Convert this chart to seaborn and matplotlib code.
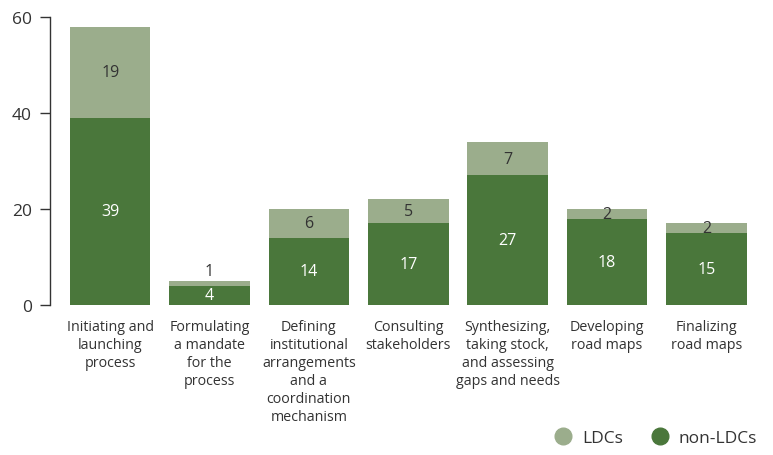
import matplotlib
matplotlib.use("Agg")
import matplotlib.pyplot as plt
from matplotlib.lines import Line2D
import seaborn as sns
import pandas as pd

stages = [
    "Initiating and\nlaunching\nprocess",
    "Formulating\na mandate\nfor the\nprocess",
    "Defining\ninstitutional\narrangements\nand a\ncoordination\nmechanism",
    "Consulting\nstakeholders",
    "Synthesizing,\ntaking stock,\nand assessing\ngaps and needs",
    "Developing\nroad maps",
    "Finalizing\nroad maps",
]
non_ldcs = [39, 4, 14, 17, 27, 18, 15]
ldcs = [19, 1, 6, 5, 7, 2, 2]

dark = "#4a773b"
light = "#9bad8c"
txt = "#333333"

sns.set_theme(style="white")
plt.rcParams["font.family"] = ["Open Sans", "DejaVu Sans"]

df = pd.DataFrame({"stage": stages, "non": non_ldcs, "ldc": ldcs})
df["total"] = df["non"] + df["ldc"]

fig = plt.figure(figsize=(7.73, 4.56), dpi=100)
ax = fig.add_axes([50 / 773, 150 / 456, 712 / 773, 288 / 456])

# stacked bars: total in light, non-LDC part on top in dark
sns.barplot(data=df, x="stage", y="total", color=light, width=0.81,
            saturation=1, linewidth=0, ax=ax)
sns.barplot(data=df, x="stage", y="non", color=dark, width=0.81,
            saturation=1, linewidth=0, ax=ax)

for i, (n, l) in enumerate(zip(non_ldcs, ldcs)):
    ax.text(i, n / 2, str(n), ha="center", va="center", color="white", fontsize=11.5)
    if l < 1.5:
        ax.text(i, n + l + 0.4, str(l), ha="center", va="bottom", color=txt, fontsize=11.5)
    else:
        ax.text(i, n + l / 2, str(l), ha="center", va="center", color=txt, fontsize=11.5)

ax.set_ylim(0, 60)
ax.set_xlim(-0.606, 6.56)
ax.set_yticks([0, 20, 40, 60])
ax.set_xlabel("")
ax.set_ylabel("")
ax.set_xticks(range(len(stages)))
ax.set_xticklabels(stages, fontsize=10.3, color=txt, linespacing=1.27, va="top")
ax.tick_params(axis="x", length=0, pad=10)
ax.tick_params(axis="y", length=7, width=1, color=txt, labelsize=12.5, labelcolor=txt,
               left=True, pad=6)
for s in ["top", "right", "bottom"]:
    ax.spines[s].set_visible(False)
ax.spines["left"].set_color(txt)
ax.spines["left"].set_linewidth(1)

handles = [
    Line2D([], [], marker="o", linestyle="", markersize=12, color=light, label="LDCs"),
    Line2D([], [], marker="o", linestyle="", markersize=12, color=dark, label="non-LDCs"),
]
fig.legend(handles=handles, loc="lower right", bbox_to_anchor=(1.0, -0.015), ncol=2,
           frameon=False, fontsize=12.5, handletextpad=0.1, columnspacing=1.1,
           labelcolor=txt)

fig.savefig("out.png", dpi=100)
